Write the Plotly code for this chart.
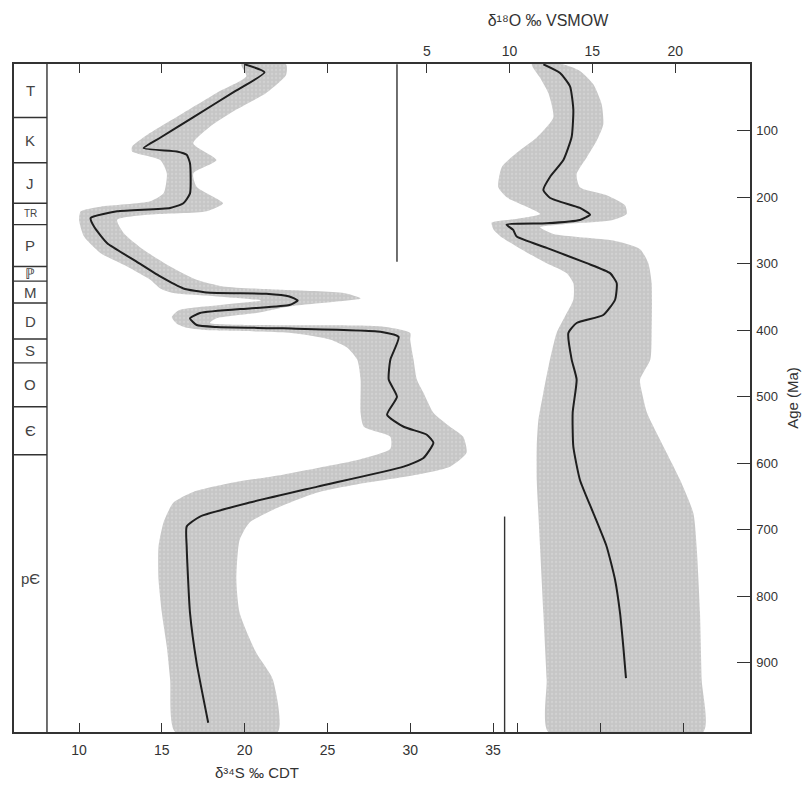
import plotly.graph_objects as go

# ---------------------------------------------------------------------------
# Data: secular sulfur and oxygen isotope curves for seawater sulfate
# ---------------------------------------------------------------------------

# delta34S (permil CDT) mean curve
S_AGE = [0, 12, 40, 80, 110, 126, 131, 136, 149, 194, 209, 216, 221, 231, 244,
         269, 294, 319, 337, 343, 345, 349, 355, 362, 367, 374, 382, 392, 395,
         397, 402, 410, 444, 474, 500, 527, 545, 557, 569, 592, 605, 635, 659,
         680, 695, 726, 825, 900, 990]
S_VAL = [20.0, 21.2, 19.45, 16.86, 14.92, 13.9, 15.9, 16.5, 16.7, 16.7, 16.3,
         15.5, 12.3, 10.7, 10.9, 11.7, 13.3, 14.9, 16.3, 17.7, 21.3, 22.7, 23.2,
         22.7, 20.3, 17.3, 16.7, 17.1, 18.3, 22.3, 28.2, 29.3, 28.8, 28.7, 29.2,
         28.6, 29.6, 31.0, 31.4, 30.8, 29.6, 24.4, 20.3, 17.3, 16.5, 16.5, 16.7,
         17.1, 17.8]

# delta34S envelope, low-value side
SL_AGE = [0, 18, 43, 73, 103, 124, 131, 144, 164, 194, 206, 214, 221, 234, 259,
          284, 304, 324, 337, 344, 349, 355, 362, 370, 380, 390, 396, 400, 403,
          408, 414, 426, 444, 474, 524, 545, 560, 578, 595, 607, 617, 629, 643,
          659, 689, 725, 775, 825, 876, 925, 1004]
SL_VAL = [19.8, 20.1, 18.3, 16.3, 14.3, 13.2, 13.2, 14.9, 15.3, 15.1, 14.3, 11.3,
          10.1, 10.0, 10.3, 11.3, 12.9, 14.3, 14.9, 15.7, 18.3, 21.0, 18.5, 16.0,
          15.6, 15.9, 16.5, 18.0, 22.3, 24.0, 25.2, 26.2, 26.8, 27.0, 27.0, 27.2,
          28.8, 28.8, 26.8, 24.4, 22.3, 19.3, 16.9, 15.7, 15.1, 14.8, 14.8, 15.0,
          15.3, 15.5, 15.8]

# delta34S envelope, high-value side
SR_AGE = [0, 16, 43, 68, 94, 119, 144, 164, 184, 209, 221, 226, 234, 254, 279,
          304, 324, 334, 339, 344, 352, 357, 364, 374, 382, 389, 392, 394, 404,
          414, 444, 474, 494, 524, 545, 560, 584, 605, 617, 629, 644, 670, 689,
          715, 775, 825, 885, 925, 1004]
SR_VAL = [22.5, 22.5, 21.3, 19.5, 17.9, 16.9, 18.3, 16.9, 17.1, 18.7, 17.7, 14.3,
          12.3, 12.7, 13.9, 15.5, 17.1, 18.7, 22.3, 26.0, 27.0, 25.4, 22.7, 20.7,
          18.3, 17.9, 20.3, 28.2, 30.0, 30.0, 30.2, 30.4, 30.8, 31.4, 32.4, 33.2,
          33.4, 32.4, 30.4, 27.4, 24.4, 21.7, 20.3, 19.7, 19.5, 19.7, 20.7, 21.7,
          22.0]

# delta18O (permil VSMOW) mean curve
O_AGE = [0, 13, 33, 68, 109, 144, 169, 189, 201, 216, 226, 234, 239, 241, 249,
         259, 276, 299, 314, 329, 354, 377, 389, 404, 444, 474, 524, 575, 625,
         675, 725, 775, 825, 876, 923]
O_VAL = [12.04, 13.05, 13.65, 13.85, 13.75, 13.25, 12.45, 12.04, 12.45, 14.25,
         14.86, 14.25, 12.24, 9.82, 10.22, 10.43, 12.24, 14.66, 16.07, 16.47,
         16.37, 15.66, 14.05, 13.55, 13.75, 14.05, 13.81, 13.85, 14.25, 15.06,
         15.86, 16.37, 16.67, 16.87, 17.03]

# delta18O envelope, low-value side
OL_AGE = [0, 20, 43, 80, 110, 133, 155, 185, 200, 212, 225, 233, 238, 248, 258,
          268, 283, 299, 314, 329, 354, 379, 404, 444, 494, 535, 575, 625, 675,
          726, 825, 925, 1004]
OL_VAL = [11.34, 11.84, 12.34, 12.64, 11.64, 10.43, 9.52, 9.32, 9.83, 10.83,
          11.84, 10.23, 8.92, 9.02, 9.42, 10.03, 11.04, 12.24, 13.45, 13.85,
          13.85, 13.35, 12.84, 12.44, 12.04, 11.74, 11.64, 11.64, 11.74, 11.84,
          12.04, 12.24, 12.34]

# delta18O envelope, high-value side
OR_AGE = [0, 10, 30, 60, 90, 115, 140, 165, 185, 197, 212, 225, 235, 240, 245,
          255, 265, 278, 299, 329, 404, 444, 474, 494, 524, 575, 625, 675, 726,
          825, 925, 1004]
OR_VAL = [13.2, 14.25, 15.06, 15.56, 15.66, 15.26, 14.66, 14.05, 14.25, 15.86,
          16.97, 17.07, 16.07, 13.45, 11.84, 12.64, 16.27, 17.88, 18.38, 18.58,
          18.58, 18.5, 17.88, 18.0, 18.3, 19.3, 20.3, 21.1, 21.3, 21.5, 21.6, 21.7]

# reference marker lines in the oxygen panel (delta18O value, age span)
MARK_TOP_VAL = 3.2
MARK_TOP_AGES = [0, 297]
MARK_BOT_VAL = 9.7
MARK_BOT_AGES = [680, 1004]

# geological periods: boundaries (Ma) and labels
PERIOD_BOUNDS = [0, 80, 148, 209, 241, 304, 326, 359, 413, 449, 515, 587, 1004]
PERIOD_LABELS = ["T", "K", "J", "TR", "P", "\u2119", "M", "D", "S", "O",
                 "\u0404", "p\u0404"]

# axis ticks
S_TICKS = [10, 15, 20, 25, 30, 35]
S_TOP_MINOR = [10, 15, 20, 25]
O_TICKS = [5, 10, 15, 20]
O_BOTTOM_MINOR = [10.5, 15.5, 20.5]
AGE_TICKS = [100, 200, 300, 400, 500, 600, 700, 800, 900]

# ---------------------------------------------------------------------------
# Axis geometry: both isotope scales share one horizontal scale, offset
# ---------------------------------------------------------------------------
O_OFFSET = 26.0                    # delta34S value aligned with delta18O = 0
S_RANGE = [6.07, 50.52]
O_RANGE = [S_RANGE[0] - O_OFFSET, S_RANGE[1] - O_OFFSET]
AGE_RANGE = [1004, -0.5]

INK = "#333333"
BAND = "#c6c6c6"
CURVE = "#1e1e1e"
FONT = "Liberation Sans Narrow, Arial Narrow, Liberation Sans, Arial, sans-serif"
STIPPLE = dict(shape=".", bgcolor=BAND, fgcolor="#dedede", size=4, solidity=0.25)


def band_polygon(l_age, l_val, r_age, r_val):
    xs = list(l_val) + list(reversed(r_val)) + [l_val[0]]
    ys = list(l_age) + list(reversed(r_age)) + [l_age[0]]
    return xs, ys


fig = go.Figure()

# sulfur envelope and curve
bx, by = band_polygon(SL_AGE, SL_VAL, SR_AGE, SR_VAL)
fig.add_trace(go.Scatter(x=bx, y=by, mode="lines", fill="toself",
                         fillcolor=BAND, fillpattern=STIPPLE,
                         line=dict(width=0, shape="spline", smoothing=0.6),
                         hoverinfo="skip", showlegend=False))
fig.add_trace(go.Scatter(x=S_VAL, y=S_AGE, mode="lines",
                         line=dict(color=CURVE, width=2, shape="spline",
                                   smoothing=0.5),
                         showlegend=False, name="δ34S"))

# oxygen envelope and curve
ox, oy = band_polygon(OL_AGE, OL_VAL, OR_AGE, OR_VAL)
fig.add_trace(go.Scatter(x=ox, y=oy, mode="lines", fill="toself",
                         fillcolor=BAND, fillpattern=STIPPLE,
                         line=dict(width=0, shape="spline", smoothing=0.6),
                         xaxis="x2", yaxis="y",
                         hoverinfo="skip", showlegend=False))
fig.add_trace(go.Scatter(x=O_VAL, y=O_AGE, mode="lines",
                         line=dict(color=CURVE, width=2, shape="spline",
                                   smoothing=0.5),
                         xaxis="x2", yaxis="y",
                         showlegend=False, name="δ18O"))

# marker lines
for val, ages in ((MARK_TOP_VAL, MARK_TOP_AGES), (MARK_BOT_VAL, MARK_BOT_AGES)):
    fig.add_trace(go.Scatter(x=[val, val], y=ages, mode="lines",
                             line=dict(color=INK, width=1.4),
                             xaxis="x2", yaxis="y",
                             hoverinfo="skip", showlegend=False))

# period column
COL_W = 0.0448
shapes = [dict(type="line", xref="paper", yref="paper", x0=COL_W, x1=COL_W,
               y0=0, y1=1, line=dict(color=INK, width=1.4))]
for b in PERIOD_BOUNDS[1:-1]:
    shapes.append(dict(type="line", xref="paper", yref="y", x0=0, x1=COL_W,
                       y0=b, y1=b, line=dict(color=INK, width=1.4)))

annotations = []
for i, lab in enumerate(PERIOD_LABELS):
    mid = 0.5 * (PERIOD_BOUNDS[i] + PERIOD_BOUNDS[i + 1])
    small = lab == "TR"
    last = i == len(PERIOD_LABELS) - 1
    annotations.append(dict(
        x=COL_W / 2, y=mid, xref="paper", yref="y",
        text=lab, showarrow=False,
        xanchor="center", yanchor="middle",
        yshift=15 if last else 0,
        font=dict(family="Liberation Sans, Arial, sans-serif",
                  size=10 if small else 15, color="#444444")))

# sulfur-scale caption sits under the left part of the bottom axis
annotations.append(dict(
    x=0.330, y=-0.060, xref="paper", yref="paper", showarrow=False,
    text="δ\u00b3\u2074S ‰ CDT", xanchor="center", yanchor="middle",
    font=dict(family=FONT, size=15, color=INK)))

TICK_STYLE = dict(ticks="inside", ticklen=9, tickwidth=1.3, tickcolor=INK)

fig.update_layout(
    width=812, height=788,
    margin=dict(l=14, r=62, t=64, b=56),
    paper_bgcolor="white", plot_bgcolor="white",
    font=dict(family=FONT, size=13, color=INK),
    showlegend=False,
    title=dict(text="δ\u00b9\u2078O ‰ VSMOW", xref="paper", x=0.7255,
               xanchor="center", yref="container", y=1 - 20 / 788,
               yanchor="middle", font=dict(family=FONT, size=16, color=INK)),
    shapes=shapes,
    annotations=annotations,
    xaxis=dict(range=S_RANGE, showgrid=False, zeroline=False,
               showline=True, mirror=True, linecolor=INK, linewidth=1.5,
               tickmode="array", tickvals=S_TICKS,
               ticktext=[str(v) for v in S_TICKS],
               minor=dict(tickmode="array",
                          tickvals=[v + O_OFFSET for v in O_BOTTOM_MINOR],
                          showgrid=False, **TICK_STYLE),
               tickfont=dict(family=FONT, size=14, color=INK),
               ticklabelstandoff=4, **TICK_STYLE),
    xaxis2=dict(range=O_RANGE, overlaying="x", side="top", showgrid=False,
                zeroline=False, showline=False,
                tickmode="array", tickvals=O_TICKS,
                ticktext=[str(v) for v in O_TICKS],
                minor=dict(tickmode="array",
                           tickvals=[v - O_OFFSET for v in S_TOP_MINOR],
                           showgrid=False, **TICK_STYLE),
                tickfont=dict(family=FONT, size=14, color=INK),
                ticklabelstandoff=4, **TICK_STYLE),
    yaxis=dict(range=AGE_RANGE, side="right", showgrid=False, zeroline=False,
               showline=True, mirror=True, linecolor=INK, linewidth=1.5,
               ticks="inside", ticklen=13, tickwidth=1.3, tickcolor=INK,
               tickvals=AGE_TICKS,
               tickfont=dict(family=FONT, size=13, color=INK),
               ticklabelstandoff=2,
               title=dict(text="Age (Ma)", standoff=10,
                          font=dict(family=FONT, size=15, color=INK))),
)

fig.write_html("out.html")
